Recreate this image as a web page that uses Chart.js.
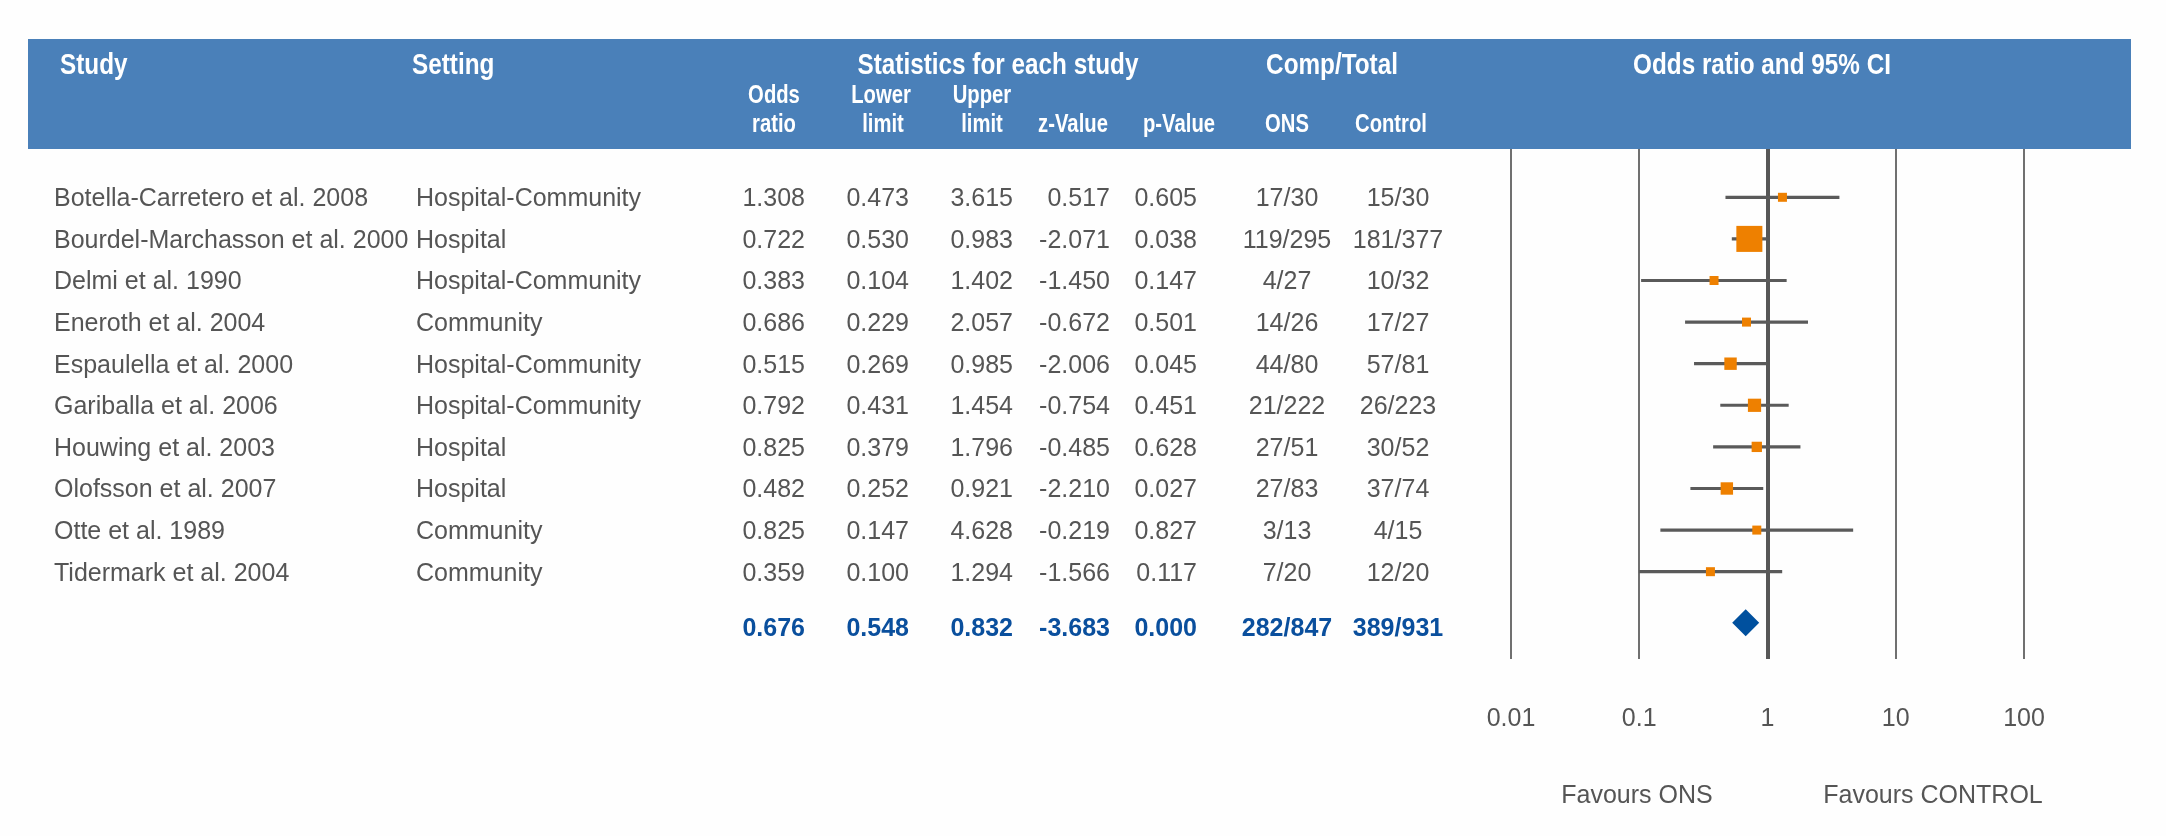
<!DOCTYPE html>
<html>
<head>
<meta charset="utf-8">
<script src="https://cdn.jsdelivr.net/npm/chart.js@4.4.1/dist/chart.umd.min.js"></script>
<style>
html,body{margin:0;padding:0;background:#fefefe;}
#wrap{position:relative;width:2166px;height:836px;}
</style>
</head>
<body>
<div id="wrap"><canvas id="c"></canvas></div>
<script>
// ---------- DATA ----------
const studies = ['Botella-Carretero et al. 2008','Bourdel-Marchasson et al. 2000','Delmi et al. 1990','Eneroth et al. 2004','Espaulella et al. 2000','Gariballa et al. 2006','Houwing et al. 2003','Olofsson et al. 2007','Otte et al. 1989','Tidermark et al. 2004'];
const settings = ['Hospital-Community','Hospital','Hospital-Community','Community','Hospital-Community','Hospital-Community','Hospital','Hospital','Community','Community'];
const oddsRatio = [1.308,0.722,0.383,0.686,0.515,0.792,0.825,0.482,0.825,0.359];
const lowerLimit = [0.473,0.530,0.104,0.229,0.269,0.431,0.379,0.252,0.147,0.100];
const upperLimit = [3.615,0.983,1.402,2.057,0.985,1.454,1.796,0.921,4.628,1.294];
const zValue = [0.517,-2.071,-1.450,-0.672,-2.006,-0.754,-0.485,-2.210,-0.219,-1.566];
const pValue = [0.605,0.038,0.147,0.501,0.045,0.451,0.628,0.027,0.827,0.117];
const onsCompTotal = ['17/30','119/295','4/27','14/26','44/80','21/222','27/51','27/83','3/13','7/20'];
const controlCompTotal = ['15/30','181/377','10/32','17/27','57/81','26/223','30/52','37/74','4/15','12/20'];
const weights = [4.2,45.7,2.6,3.6,10.4,11.8,7.2,10.4,1.5,2.7]; // relative weight (%) -> box size

const summaryOR = 0.676, summaryLower = 0.548, summaryUpper = 0.832, summaryZ = -3.683, summaryP = 0.000;
const summaryOns = '282/847', summaryControl = '389/931';

const tickValues = [0.01,0.1,1,10,100];
const tickLabels = ['0.01','0.1','1','10','100'];

const mainHeaders = ['Study','Setting','Statistics for each study','Comp/Total','Odds ratio and 95% CI'];
const subHeadersTop = ['Odds','Lower','Upper'];
const subHeadersBottom = ['ratio','limit','limit','z-Value','p-Value','ONS','Control'];
const favourLabels = ['Favours ONS','Favours CONTROL'];

// ---------- LAYOUT / STYLE ----------
const FONT = "'Liberation Sans', Arial, Helvetica, sans-serif";
const TEXT_COLOR = '#555555';
const BLUE_TEXT = '#0a4f9d';
const BAND_COLOR = '#4a80b9';
const ORANGE = '#ee8000';
const SUMMARY_TEXT_ROW = 10.33;
const SUMMARY_MARK_ROW = 10.23;

function drawText(ctx, str, x, y, align, font, color, sx) {
  ctx.save();
  ctx.translate(x, y);
  ctx.scale(sx || 1, 1);
  ctx.font = font;
  ctx.fillStyle = color;
  ctx.textAlign = align;
  ctx.textBaseline = 'alphabetic';
  ctx.fillText(str, 0, 0);
  ctx.restore();
}

const tablePlugin = {
  id: 'tablePlugin',
  beforeDraw(chart) {
    const ctx = chart.ctx;
    ctx.save();
    ctx.fillStyle = '#fefefe';
    ctx.fillRect(0, 0, chart.width, chart.height);
    ctx.fillStyle = BAND_COLOR;
    ctx.fillRect(28, 39, 2131 - 28, 149 - 39);
    ctx.restore();
  },
  afterDraw(chart) {
    const ctx = chart.ctx;
    const y = chart.scales.y;
    const hMain = "bold 30px " + FONT;
    const hSub = "bold 25px " + FONT;
    const SX = 0.81;
    const mhX = [60, 412, 998, 1332, 1762];
    const mhA = ['left','left','center','center','center'];
    mainHeaders.forEach((t, i) => drawText(ctx, t, mhX[i], 74, mhA[i], hMain, '#ffffff', SX));
    const shTopX = [774, 881, 982];
    subHeadersTop.forEach((t, i) => drawText(ctx, t, shTopX[i], 103, 'center', hSub, '#ffffff', SX));
    const shBotX = [774, 883, 982, 1073, 1179, 1287, 1391];
    subHeadersBottom.forEach((t, i) => drawText(ctx, t, shBotX[i], 132, 'center', hSub, '#ffffff', SX));

    const body = "25px " + FONT;
    const off = 9;
    studies.forEach((s, i) => {
      const yy = y.getPixelForValue(i) + off;
      drawText(ctx, s, 54, yy, 'left', body, TEXT_COLOR);
      drawText(ctx, settings[i], 416, yy, 'left', body, TEXT_COLOR);
      drawText(ctx, oddsRatio[i].toFixed(3), 805, yy, 'right', body, TEXT_COLOR);
      drawText(ctx, lowerLimit[i].toFixed(3), 909, yy, 'right', body, TEXT_COLOR);
      drawText(ctx, upperLimit[i].toFixed(3), 1013, yy, 'right', body, TEXT_COLOR);
      drawText(ctx, zValue[i].toFixed(3), 1110, yy, 'right', body, TEXT_COLOR);
      drawText(ctx, pValue[i].toFixed(3), 1197, yy, 'right', body, TEXT_COLOR);
      drawText(ctx, onsCompTotal[i], 1287, yy, 'center', body, TEXT_COLOR);
      drawText(ctx, controlCompTotal[i], 1398, yy, 'center', body, TEXT_COLOR);
    });
    const bold = "bold 25px " + FONT;
    const sy = y.getPixelForValue(SUMMARY_TEXT_ROW) + off;
    drawText(ctx, summaryOR.toFixed(3), 805, sy, 'right', bold, BLUE_TEXT);
    drawText(ctx, summaryLower.toFixed(3), 909, sy, 'right', bold, BLUE_TEXT);
    drawText(ctx, summaryUpper.toFixed(3), 1013, sy, 'right', bold, BLUE_TEXT);
    drawText(ctx, summaryZ.toFixed(3), 1110, sy, 'right', bold, BLUE_TEXT);
    drawText(ctx, summaryP.toFixed(3), 1197, sy, 'right', bold, BLUE_TEXT);
    drawText(ctx, summaryOns, 1287, sy, 'center', bold, BLUE_TEXT);
    drawText(ctx, summaryControl, 1398, sy, 'center', bold, BLUE_TEXT);

    drawText(ctx, favourLabels[0], 1637, 803, 'center', body, TEXT_COLOR);
    drawText(ctx, favourLabels[1], 1933, 803, 'center', body, TEXT_COLOR);
  }
};

const ctx = document.getElementById('c').getContext('2d');
new Chart(ctx, {
  type: 'scatter',
  data: {
    datasets: [
      {
        type: 'bar',
        indexAxis: 'y',
        data: studies.map((s, i) => ({ y: i, x: [lowerLimit[i], upperLimit[i]] })),
        backgroundColor: '#5a5a5a',
        borderWidth: 0,
        barThickness: 2.5,
        order: 3
      },
      {
        type: 'scatter',
        data: studies.map((s, i) => ({ x: oddsRatio[i], y: i })),
        pointStyle: 'rect',
        pointRadius: weights.map(w => Math.max(9, 3.85 * Math.sqrt(w)) / Math.SQRT2),
        pointHoverRadius: weights.map(w => Math.max(9, 3.85 * Math.sqrt(w)) / Math.SQRT2),
        backgroundColor: ORANGE,
        borderWidth: 0,
        order: 2
      },
      {
        type: 'scatter',
        data: [{ x: summaryOR, y: SUMMARY_MARK_ROW }],
        pointStyle: 'rectRot',
        pointRadius: 13.5,
        pointHoverRadius: 13.5,
        backgroundColor: '#00509e',
        borderWidth: 0,
        order: 1
      }
    ]
  },
  options: {
    responsive: true,
    maintainAspectRatio: false,
    animation: false,
    events: [],
    layout: { padding: { left: 1511, right: 142, top: 149, bottom: 102 } },
    plugins: { legend: { display: false }, tooltip: { enabled: false } },
    scales: {
      x: {
        type: 'logarithmic',
        position: 'bottom',
        min: 0.01,
        max: 100,
        offset: false,
        afterBuildTicks: s => { s.ticks = tickValues.map(v => ({ value: v })); },
        afterFit: s => { s.height = 75; },
        ticks: {
          autoSkip: false,
          maxRotation: 0,
          padding: 45,
          color: TEXT_COLOR,
          font: { family: FONT, size: 25 },
          callback: v => { const k = tickValues.indexOf(v); return k >= 0 ? tickLabels[k] : ''; }
        },
        grid: {
          offset: false,
          drawTicks: false,
          color: c => (c.tick && c.tick.value === 1) ? '#575757' : '#707070',
          lineWidth: c => (c.tick && c.tick.value === 1) ? 4 : 2
        },
        border: { display: false }
      },
      y: {
        type: 'linear',
        display: false,
        reverse: true,
        offset: false,
        grace: 0,
        grid: { offset: false },
        min: -1.161,
        max: 11.099
      }
    }
  },
  plugins: [tablePlugin]
});
</script>
</body>
</html>
